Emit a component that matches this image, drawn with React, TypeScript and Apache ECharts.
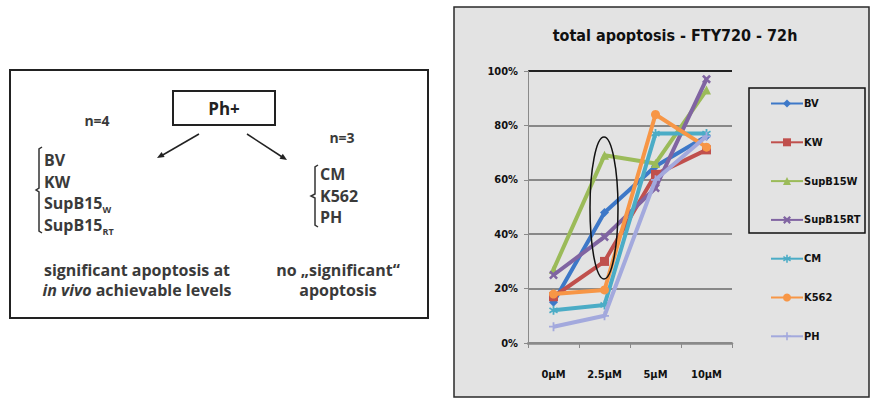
import React, { useEffect, useRef } from "react";
import * as echarts from "echarts";

const categories = ["0µM", "2.5µM", "5µM", "10µM"];
const yTicks = ["0%", "20%", "40%", "60%", "80%", "100%"];
const seriesNames = ["BV", "KW", "SupB15W", "SupB15RT", "CM", "K562", "PH"];
const bv = [15, 48, 65, 76];
const kw = [17, 30, 62, 71];
const supW = [27, 69, 66, 93];
const supRT = [25, 39, 57, 97];
const cm = [12, 14, 77, 77];
const k562 = [18, 19.5, 84, 72];
const ph = [6, 10, 60, 76];
const seriesValues = [bv, kw, supW, supRT, cm, k562, ph];
const colors = ["#3d78c8", "#c0504d", "#9bbb59", "#8064a2", "#4bacc6", "#f79646", "#a3a9dd"];
const XSYM = "path://M0,2 L2,0 L5,3 L8,0 L10,2 L7,5 L10,8 L8,10 L5,7 L2,10 L0,8 L3,5 Z";
const STAR = "path://M4,0 H6 V3.5 L9,1.5 L10,3.3 L7,5 L10,6.7 L9,8.5 L6,6.5 V10 H4 V6.5 L1,8.5 L0,6.7 L3,5 L0,3.3 L1,1.5 L4,3.5 Z";
const PLUS = "path://M4,0 H6 V4 H10 V6 H6 V10 H4 V6 H0 V4 H4 Z";
const symbols = ["diamond", "rect", "triangle", XSYM, STAR, "circle", PLUS];

const leftList = ["BV", "KW", "SupB15{sub|W}", "SupB15{sub|RT}"];
const rightList = ["CM", "K562", "PH"];

const NARROW = "'Liberation Sans Narrow', 'DejaVu Sans Condensed', 'Liberation Sans', sans-serif";
const BODY = "'Open Sans', 'Noto Sans', sans-serif";

function txt(x: number, y: number, text: string, extra: any = {}) {
  return {
    type: "text",
    x,
    y,
    z: 20,
    style: {
      text,
      fontSize: 16,
      fontFamily: BODY,
      fontWeight: "bold",
      fill: "#3a3a3a",
      textAlign: "left",
      textVerticalAlign: "middle",
      align: "left",
      verticalAlign: "middle",
      ...extra,
    },
  };
}

export default function App() {
  const ref = useRef<HTMLDivElement>(null);
  useEffect(() => {
    if (!ref.current) return;
    const chart = echarts.init(ref.current, null, { renderer: "svg" });
    const rich = {
      sub: { fontSize: 9, fontFamily: BODY, fontWeight: "bold", fill: "#3a3a3a", color: "#3a3a3a", verticalAlign: "bottom", lineHeight: 22 },
      it: { fontStyle: "italic", fontSize: 16, fontFamily: BODY, fontWeight: "bold", color: "#3a3a3a", fill: "#3a3a3a" },
    };
    const graphic: any[] = [
      {
        type: "rect",
        z: -100,
        shape: { x: 454, y: 7, width: 415, height: 390 },
        style: { fill: "#e3e3e3", stroke: "#2a2a2a", lineWidth: 1.5 },
      },
      {
        type: "rect",
        z: 10,
        shape: { x: 749, y: 88, width: 116, height: 145 },
        style: { fill: "none", stroke: "#111", lineWidth: 1.5 },
      },
      {
        type: "ellipse",
        z: 10,
        shape: { cx: 604, cy: 208, rx: 14, ry: 71 },
        style: { fill: "none", stroke: "#111", lineWidth: 1.5 },
      },
      {
        type: "rect",
        z: 10,
        shape: { x: 10, y: 70, width: 418, height: 248 },
        style: { fill: "#fff", stroke: "#222", lineWidth: 2 },
      },
      {
        type: "rect",
        z: 11,
        shape: { x: 173, y: 91, width: 102, height: 34 },
        style: { fill: "#fff", stroke: "#222", lineWidth: 2 },
      },
      txt(224, 108, "Ph+", { textAlign: "center", align: "center", fill: "#222", fontSize: 17 }),
      txt(97, 120, "n=4", { textAlign: "center", align: "center", fontSize: 14 }),
      txt(342, 137, "n=3", { textAlign: "center", align: "center", fontSize: 14 }),
      { type: "line", z: 11, shape: { x1: 199, y1: 134, x2: 161, y2: 156 }, style: { stroke: "#222", lineWidth: 1.5 } },
      { type: "polygon", z: 11, shape: { points: [[157, 158], [164.6, 157.1], [161.6, 151.9]] }, style: { fill: "#222" } },
      { type: "line", z: 11, shape: { x1: 247, y1: 134, x2: 283, y2: 157.5 }, style: { stroke: "#222", lineWidth: 1.5 } },
      { type: "polygon", z: 11, shape: { points: [[287, 160], [279.5, 158.7], [282.8, 153.7]] }, style: { fill: "#222" } },
      {
        type: "polyline",
        z: 11,
        shape: { points: [[42, 147], [39, 149], [39, 188], [36, 190], [39, 192], [39, 231], [42, 233]] },
        style: { stroke: "#333", lineWidth: 1.5, fill: "none" },
      },
      {
        type: "polyline",
        z: 11,
        shape: { points: [[318, 165], [315, 167], [315, 194], [311, 196], [315, 198], [315, 225], [318, 227]] },
        style: { stroke: "#333", lineWidth: 1.5, fill: "none" },
      },
      ...leftList.map((t, i) => txt(44, [160, 182, 203, 225][i], t, { rich })),
      ...rightList.map((t, i) => txt(320, [174, 196, 217][i], t)),
      txt(137, 270, "significant apoptosis at", { textAlign: "center", align: "center" }),
      txt(137, 290, "{it|in vivo} achievable levels", { textAlign: "center", align: "center", rich }),
      txt(338, 270, "no „significant“", { textAlign: "center", align: "center" }),
      txt(338, 290, "apoptosis", { textAlign: "center", align: "center" }),
    ];

    chart.setOption({
      animation: false,
      backgroundColor: "#ffffff",
      title: {
        text: "total apoptosis - FTY720 - 72h",
        left: 670,
        top: 22,
        textAlign: "center",
        textStyle: { fontSize: 16, fontWeight: "bold", fontFamily: NARROW, color: "#111" },
      },
      grid: { left: 528, right: 140, top: 71, bottom: 59 },
      legend: {
        orient: "vertical",
        left: 765,
        top: 93,
        itemWidth: 32,
        itemHeight: 10,
        itemGap: 27.8,
        data: seriesNames,
        textStyle: { fontSize: 11, fontWeight: "bold", fontFamily: NARROW, color: "#111", padding: [0, 0, 0, -4] },
      },
      xAxis: {
        type: "category",
        data: categories,
        boundaryGap: true,
        axisLine: { show: true, lineStyle: { color: "#8a8a8a", width: 2.5 } },
        axisTick: { show: true, length: 5, lineStyle: { color: "#8a8a8a", width: 1 } },
        axisLabel: { fontSize: 11, fontWeight: "bold", fontFamily: NARROW, color: "#111", margin: 26 },
      },
      yAxis: {
        type: "value",
        min: 0,
        max: 100,
        interval: 20,
        axisLine: { show: true, lineStyle: { color: "#8a8a8a", width: 1 } },
        axisTick: { show: true, length: 4, lineStyle: { color: "#8a8a8a" } },
        axisLabel: {
          fontSize: 11,
          fontWeight: "bold",
          fontFamily: NARROW,
          color: "#111",
          margin: 10,
          formatter: (v: number) => yTicks[Math.round(v / 20)],
        },
        splitLine: {
          show: true,
          lineStyle: { color: ["#888", "#888", "#888", "#888", "#888", "#222"], width: 2 },
        },
      },
      series: seriesNames.map((name, i) => ({
        name,
        type: "line",
        data: seriesValues[i],
        symbol: symbols[i],
        symbolSize: 9,
        showSymbol: true,
        lineStyle: { color: colors[i], width: 4 },
        itemStyle: { color: colors[i] },
        z: 3 + i,
      })),
      graphic,
    });
    return () => chart.dispose();
  }, []);
  return (
    <div
      ref={ref}
      style={{ position: "absolute", left: 0, top: 0, width: 872, height: 402 }}
    />
  );
}
